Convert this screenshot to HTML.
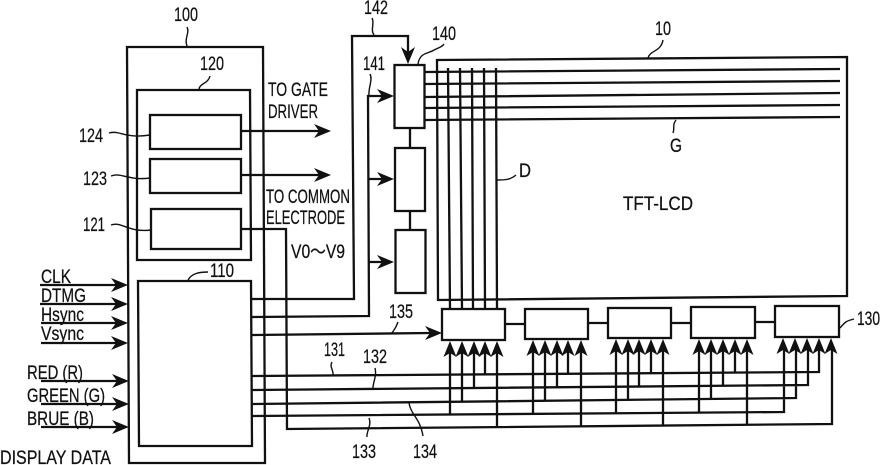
<!DOCTYPE html>
<html><head><meta charset="utf-8"><style>
html,body{margin:0;padding:0;background:#fff;width:880px;height:465px;overflow:hidden}
svg{display:block}
text{font-family:"Liberation Sans","Noto Sans CJK JP",sans-serif;font-size:19px;fill:#111;stroke:#111;stroke-width:.25}
.l{fill:none;stroke:#111;stroke-width:2.3}
.t{fill:none;stroke:#111;stroke-width:1.4}
.a{fill:#111;stroke:none}
</style></head><body>
<svg width="880" height="465" viewBox="0 0 880 465" xmlns="http://www.w3.org/2000/svg">
<defs>
<path id="r" class="a" d="M0 0L-17 -7L-12 0L-17 7Z"/>
<path id="u" class="a" d="M0 0L-6.500 16L0 12L6.500 16Z"/>
<path id="d" class="a" d="M0 0L-7 -17L0 -12L7 -17Z"/>
</defs>
<g class="l">
<path d="M127 47H263L265 463H129Z"/>
<path d="M137 90H250L251 260H137Z"/>
<rect x="150" y="115" width="91" height="34"/>
<rect x="150" y="159" width="91" height="34"/>
<rect x="151" y="209" width="90" height="40"/>
<path d="M138 281H251L252 446H139Z"/>
<path d="M241 131H325M241 175H325"/>
<path d="M241 229H286L287 429L832 424V345"/>
<path d="M252 299H354L352 36H408V55"/>
<path d="M252 317L369 316L368 96H385M368 179H385M368 262H385"/>
<path d="M252 335L430 333"/>
<rect x="394.500" y="65" width="30" height="63"/>
<rect x="395" y="148" width="30" height="63"/>
<rect x="395.500" y="230" width="30" height="63"/>
<path d="M410 128V148M410 211V230"/>
<path d="M437 60L847 57V296L438 300Z"/>
<path d="M424 72L840 69M424 84L840 81M424 97L840 93M424 108L840 105M424 120L840 117"/>
<path d="M448 68L450 309M460 68L462 309M472 68L473 309M484 68L485 309M496 68L497 309"/>
<rect x="442" y="309" width="63" height="31"/>
<rect x="525" y="309" width="63" height="30"/>
<rect x="608" y="308" width="63" height="30"/>
<rect x="691" y="307" width="64" height="31"/>
<rect x="775" y="306" width="64" height="31"/>
<path d="M505 324H525M588 323H608M671 323H691M755 322H775"/>
<path d="M252 376L819 372V345M252 390L808 385V345M252 404L796 398V345M252 416L784 412V345"/>
<path d="M485 374V345M568 374V345M651 373V345M735 373V345"/>
<path d="M474 388V345M557 387V345M639 387V345M723 386V345"/>
<path d="M462 401V345M545 401V345M628 400V345M711 399V345"/>
<path d="M450 415V345M533 414V345M616 414V345M699 413V345"/>
<path d="M497 428V345M581 427V345M663 426V345M747 425V345"/>
<path d="M40 285H118M40 304H118M41 323H118M41 343H118M41 381H119M41 404H119M41 427H119"/>
</g>
<g>
<use href="#r" x="331" y="131"/><use href="#r" x="331" y="175"/>
<use href="#r" x="394" y="96"/><use href="#r" x="394" y="179"/><use href="#r" x="394" y="262"/>
<use href="#r" x="442" y="333"/>
<use href="#r" x="128" y="285"/><use href="#r" x="128" y="304"/><use href="#r" x="128" y="323"/><use href="#r" x="128" y="343"/>
<use href="#r" x="129" y="381"/><use href="#r" x="129" y="404"/><use href="#r" x="129" y="427"/>
<use href="#d" x="408" y="64"/>
<use href="#u" x="450" y="341"/><use href="#u" x="462" y="341"/><use href="#u" x="474" y="341"/><use href="#u" x="485" y="341"/><use href="#u" x="497" y="341"/>
<use href="#u" x="533" y="340"/><use href="#u" x="545" y="340"/><use href="#u" x="557" y="340"/><use href="#u" x="568" y="340"/><use href="#u" x="581" y="340"/>
<use href="#u" x="616" y="339"/><use href="#u" x="628" y="339"/><use href="#u" x="639" y="339"/><use href="#u" x="651" y="339"/><use href="#u" x="663" y="339"/>
<use href="#u" x="699" y="339"/><use href="#u" x="711" y="339"/><use href="#u" x="723" y="339"/><use href="#u" x="735" y="339"/><use href="#u" x="747" y="339"/>
<use href="#u" x="783" y="338"/><use href="#u" x="795" y="338"/><use href="#u" x="807" y="338"/><use href="#u" x="819" y="338"/><use href="#u" x="831" y="338"/>
</g>
<g class="t">
<path d="M187 27C190 33 184 38 187 46"/>
<path d="M372 18C375 24 370 29 374 35"/>
<path d="M418 64C420 52 428 54 434 50C440 47 442 47 444 44"/>
<path d="M199 89C200 83 208 84 210 76"/>
<path d="M370 74C373 80 368 88 369 96"/>
<path d="M109 133C120 130 125 139 150 135"/>
<path d="M111 176C122 172 128 181 150 178"/>
<path d="M111 225C122 221 128 233 151 230"/>
<path d="M188 280C192 273 200 272 208 272"/>
<path d="M398 322C396 328 394 330 392 333"/>
<path d="M332 362C329 367 334 370 333 376"/>
<path d="M375 368C377 376 373 382 373 388"/>
<path d="M369 418C372 425 366 432 367 437"/>
<path d="M409 403C411 415 420 418 423 436"/>
<path d="M840 328C845 322 846 321 854 319"/>
<path d="M648 58C650 50 661 52 663 40"/>
<path d="M676 120C672 125 675 128 673 133"/>
<path d="M497 180C505 180 510 180 516 175"/>
</g>
<g>
<text x="174" y="21" textLength="24" lengthAdjust="spacingAndGlyphs">100</text>
<text x="364" y="14" textLength="24" lengthAdjust="spacingAndGlyphs">142</text>
<text x="432" y="40" textLength="24" lengthAdjust="spacingAndGlyphs">140</text>
<text x="200" y="70" textLength="24" lengthAdjust="spacingAndGlyphs">120</text>
<text x="363" y="70" textLength="22" lengthAdjust="spacingAndGlyphs">141</text>
<text x="655" y="35" textLength="16" lengthAdjust="spacingAndGlyphs">10</text>
<text x="670" y="152" textLength="12" lengthAdjust="spacingAndGlyphs">G</text>
<text x="519" y="177" textLength="12" lengthAdjust="spacingAndGlyphs">D</text>
<text x="623" y="210" textLength="70" lengthAdjust="spacingAndGlyphs">TFT-LCD</text>
<text x="79" y="142" textLength="24" lengthAdjust="spacingAndGlyphs">124</text>
<text x="83" y="185" textLength="24" lengthAdjust="spacingAndGlyphs">123</text>
<text x="83" y="231" textLength="22" lengthAdjust="spacingAndGlyphs">121</text>
<text x="268" y="96" textLength="60" lengthAdjust="spacingAndGlyphs">TO GATE</text>
<text x="268" y="118" textLength="50" lengthAdjust="spacingAndGlyphs">DRIVER</text>
<text x="266" y="203" textLength="84" lengthAdjust="spacingAndGlyphs">TO COMMON</text>
<text x="266" y="224" textLength="79" lengthAdjust="spacingAndGlyphs">ELECTRODE</text>
<text x="291" y="258" textLength="54" lengthAdjust="spacingAndGlyphs">V0～V9</text>
<text x="210" y="277" textLength="24" lengthAdjust="spacingAndGlyphs">110</text>
<text x="41" y="283" textLength="30" lengthAdjust="spacingAndGlyphs">CLK</text>
<text x="41" y="302" textLength="45" lengthAdjust="spacingAndGlyphs">DTMG</text>
<text x="41" y="321" textLength="43" lengthAdjust="spacingAndGlyphs">Hsync</text>
<text x="41" y="340" textLength="43" lengthAdjust="spacingAndGlyphs">Vsync</text>
<text x="27" y="379" textLength="56" lengthAdjust="spacingAndGlyphs">RED (R)</text>
<text x="27" y="402" textLength="78" lengthAdjust="spacingAndGlyphs">GREEN (G)</text>
<text x="27" y="425" textLength="67" lengthAdjust="spacingAndGlyphs">BRUE (B)</text>
<text x="0" y="464" textLength="111" lengthAdjust="spacingAndGlyphs">DISPLAY DATA</text>
<text x="389" y="318" textLength="24" lengthAdjust="spacingAndGlyphs">135</text>
<text x="324" y="356" textLength="21" lengthAdjust="spacingAndGlyphs">131</text>
<text x="363" y="363" textLength="24" lengthAdjust="spacingAndGlyphs">132</text>
<text x="352" y="458" textLength="24" lengthAdjust="spacingAndGlyphs">133</text>
<text x="413" y="458" textLength="24" lengthAdjust="spacingAndGlyphs">134</text>
<text x="857" y="325" textLength="23" lengthAdjust="spacingAndGlyphs">130</text>
</g>
</svg>
</body></html>
